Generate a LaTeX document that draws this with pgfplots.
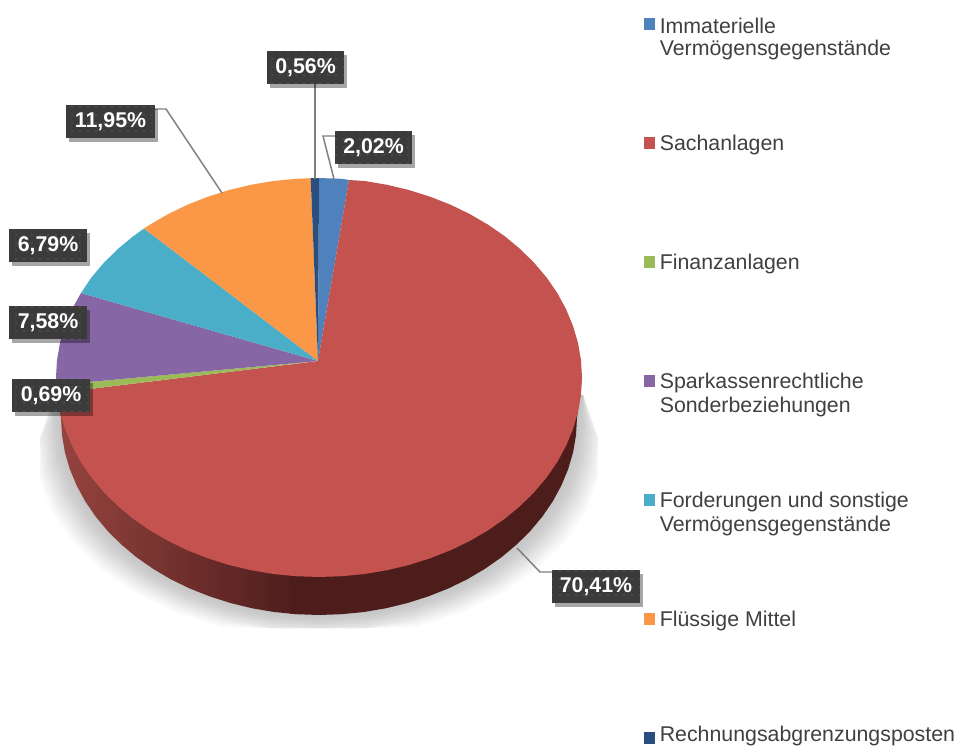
\documentclass[border=0pt]{standalone}
\usepackage{fontspec}
\setmainfont{Liberation Sans}
\usepackage{pgfplots}
\usepackage{pgfplotstable}
\pgfplotsset{compat=1.18}
\usetikzlibrary{shadows,patterns.meta}
\definecolor{cBlue}{HTML}{4F81BD}
\definecolor{cRed}{HTML}{C4524F}
\definecolor{cGreen}{HTML}{9BBB59}
\definecolor{cPurple}{HTML}{8666A5}
\definecolor{cTeal}{HTML}{4BAEC8}
\definecolor{cOrange}{HTML}{FA9848}
\definecolor{cNavy}{HTML}{2A4F7E}
\definecolor{cSideDark}{HTML}{4D1D1C}
\definecolor{cSideLight}{HTML}{96443F}
\definecolor{cBox}{HTML}{3B3B3B}
\definecolor{cLead}{HTML}{7F7F7F}
\definecolor{cText}{HTML}{404040}
\pgfplotstableread{
s c w px
0 0 1 583
1 0 0 0
.985 -.174 0 0
.940 -.342 0 0
.866 -.5 0 0
.766 -.643 0 0
.643 -.766 0 0
.5 -.866 0 0
.342 -.940 0 0
.174 -.985 0 0
0 -1 0 0
-.174 -.985 0 0
-.342 -.940 0 0
-.5 -.866 0 0
-.643 -.766 0 0
-.766 -.643 0 0
-.866 -.5 0 0
-.940 -.342 0 0
-.985 -.174 0 0
-1 0 0 0
0 0 1 55
}\unitlower
\newcommand{\shadowlayer}[2]{%
 \addplot[draw=none,fill=#2] table[
   x expr={max(40,min(598,(1-\thisrow{w})*(319+\thisrow{s}*(258+1.05*#1))+\thisrow{w}*\thisrow{px}))},
   y expr={min(628,(1-\thisrow{w})*(418+#1-\thisrow{c}*(197-.08*#1))+\thisrow{w}*395)}] {\unitlower} -- cycle;}
\tikzset{lab/.style={fill=cBox,text=white,inner sep=0pt,minimum height=24.75pt,minimum width=#1,
  font=\fontsize{16}{18}\selectfont\bfseries,
  drop shadow={shadow xshift=2pt,shadow yshift=-3pt,opacity=.35,fill=black},
  postaction={pattern={Dots[radius=.45pt,distance=6pt]},pattern color=white!35!cBox}},
  leg/.style={anchor=west,inner sep=0pt,text=cText,align=left,font=\fontsize{16}{18}\selectfont}}
\begin{document}
\begin{tikzpicture}
\path[use as bounding box] (0,0) rectangle (717.75pt,560.25pt);
\begin{axis}[at={(0,0)},anchor=south west,width=717.75pt,height=560.25pt,scale only axis,hide axis,clip=false,
  xmin=0,xmax=957,ymin=0,ymax=747,y dir=reverse]
% shadow
\shadowlayer{26}{black!1.5}
\shadowlayer{24}{black!3}
\shadowlayer{22}{black!5}
\shadowlayer{20}{black!7}
\shadowlayer{18}{black!9}
\shadowlayer{16}{black!11}
\shadowlayer{14}{black!13}
\shadowlayer{12}{black!15}
\shadowlayer{10}{black!17}
\shadowlayer{8}{black!19}
\shadowlayer{6}{black!20}
\shadowlayer{4}{black!21}
\shadowlayer{2}{black!22}
% side of the pie
\addplot[draw=none,left color=cSideLight,right color=cSideDark] coordinates {
(57,394.9)(61,418)(62,435.2)(64.9,452.2)(69.8,469)(76.6,485.4)(85.2,501.3)(95.6,516.5)(107.7,531)(121.4,544.6)(136.6,557.3)(153.2,568.9)(171,579.4)(190,588.6)(210,596.5)(230.8,603.1)(252.2,608.3)(274.2,612)(296.5,614.2)(296,500)(100,420)} -- cycle;
\addplot[draw=none,fill=cSideDark] coordinates {
(290,500)(290,613.7)(296.5,614.2)(319,615)(341.5,614.2)(363.8,612)(385.8,608.3)(407.2,603.1)(428,596.5)(448,588.6)(467,579.4)(484.8,568.9)(501.4,557.3)(516.6,544.6)(530.3,531)(542.4,516.5)(552.8,501.3)(561.4,485.4)(568.2,469)(573.1,452.2)(576,435.2)(577,418)(582,377.5)(500,400)} -- cycle;
% slices: 2,02 / 70,41 / 0,69 / 7,58 / 6,79 / 11,95 / 0,56 %
\addplot[draw=none,fill=cBlue] coordinates {(318,361)(319,178)(341.9,178.8)(349,180)} -- cycle;
\addplot[draw=none,fill=cRed] coordinates {(318,361)(349,180)(364.7,181)(387.1,184.8)(408.9,190)(430.1,196.7)(450.5,204.7)(469.9,214.1)(488.1,224.7)(505,236.4)(520.5,249.3)(534.4,263.1)(546.8,277.75)(557.4,293.2)(566.1,309.3)(573,325.9)(578,342.9)(581,360.1)(582,377.5)(581,394.9)(578,412.1)(573,429.1)(566.1,445.7)(557.4,461.8)(546.8,477.25)(534.4,491.9)(520.5,505.7)(505,518.6)(488.1,530.3)(469.9,540.9)(450.5,550.3)(430.1,558.3)(408.9,565)(387.1,570.2)(364.7,574)(341.9,576.2)(319,577)(296.1,576.2)(273.3,574)(250.9,570.2)(229.1,565)(207.9,558.3)(187.5,550.3)(168.1,540.9)(149.9,530.3)(133,518.6)(117.5,505.7)(103.6,491.9)(91.2,477.25)(80.6,461.8)(71.9,445.7)(65,429.1)(60,412.1)(57,394.9)(57,393)} -- cycle;
\addplot[draw=none,fill=cGreen] coordinates {(318,361)(57,393)(56.7,389)(56.4,385)} -- cycle;
\addplot[draw=none,fill=cPurple] coordinates {(318,361)(56.4,385)(56,377.5)(57,360.1)(60,342.9)(65,325.9)(71.9,309.3)(81,293)} -- cycle;
\addplot[draw=none,fill=cTeal] coordinates {(318,361)(81,293)(91.2,277.75)(103.6,263.1)(117.5,249.3)(133,236.4)(144,228.5)} -- cycle;
\addplot[draw=none,fill=cOrange] coordinates {(318,361)(144,228.5)(149.9,224.7)(168.1,214.1)(187.5,204.7)(207.9,196.7)(229.1,190)(250.9,184.8)(273.3,181)(296.1,178.8)(310.7,178.2)} -- cycle;
\addplot[draw=none,fill=cNavy] coordinates {(318,361)(310.7,178.2)(319,178)} -- cycle;
% leader lines
\addplot[cLead,line width=1.1pt] coordinates {(155,109)(166,109)(222,193)};
\addplot[cLead,line width=1.1pt] coordinates {(315,84)(315,179)};
\addplot[cLead,line width=1.1pt] coordinates {(335,136)(323,136)(334,179)};
\addplot[cLead,line width=1.1pt] coordinates {(517,548)(540,572)(552,572)};
% legend swatches
\addplot[only marks,mark=square*,mark size=4.1pt,mark options={draw=cBlue,fill=cBlue,line width=0pt}] coordinates {(649.5,24)};
\addplot[only marks,mark=square*,mark size=4.1pt,mark options={draw=cRed,fill=cRed,line width=0pt}] coordinates {(649.5,143)};
\addplot[only marks,mark=square*,mark size=4.1pt,mark options={draw=cGreen,fill=cGreen,line width=0pt}] coordinates {(649.5,262)};
\addplot[only marks,mark=square*,mark size=4.1pt,mark options={draw=cPurple,fill=cPurple,line width=0pt}] coordinates {(649.5,381)};
\addplot[only marks,mark=square*,mark size=4.1pt,mark options={draw=cTeal,fill=cTeal,line width=0pt}] coordinates {(649.5,500)};
\addplot[only marks,mark=square*,mark size=4.1pt,mark options={draw=cOrange,fill=cOrange,line width=0pt}] coordinates {(649.5,619)};
\addplot[only marks,mark=square*,mark size=4.1pt,mark options={draw=cNavy,fill=cNavy,line width=0pt}] coordinates {(649.5,738)};
% data labels
\node[lab=66.75pt] at (axis cs:110.5,121.5) {11,95\%};
\node[lab=57.75pt] at (axis cs:305.5,67.5) {0,56\%};
\node[lab=57.75pt] at (axis cs:373.5,147.5) {2,02\%};
\node[lab=58.5pt] at (axis cs:48,245.5) {6,79\%};
\node[lab=58.5pt] at (axis cs:48,322.5) {7,58\%};
\node[lab=58.5pt] at (axis cs:51,395.5) {0,69\%};
\node[lab=66pt] at (axis cs:596,586.5) {70,41\%};
% legend text
\node[leg] at (axis cs:659.5,26) {Immaterielle};
\node[leg] at (axis cs:659.5,50) {Vermögensgegenstände};
\node[leg] at (axis cs:659.5,145) {Sachanlagen};
\node[leg] at (axis cs:659.5,264) {Finanzanlagen};
\node[leg] at (axis cs:659.5,383) {Sparkassenrechtliche};
\node[leg] at (axis cs:659.5,407) {Sonderbeziehungen};
\node[leg] at (axis cs:659.5,502) {Forderungen und sonstige};
\node[leg] at (axis cs:659.5,526) {Vermögensgegenstände};
\node[leg] at (axis cs:659.5,621) {Flüssige Mittel};
\node[leg] at (axis cs:659.5,736) {Rechnungsabgrenzungsposten};
\end{axis}
\end{tikzpicture}
\end{document}
